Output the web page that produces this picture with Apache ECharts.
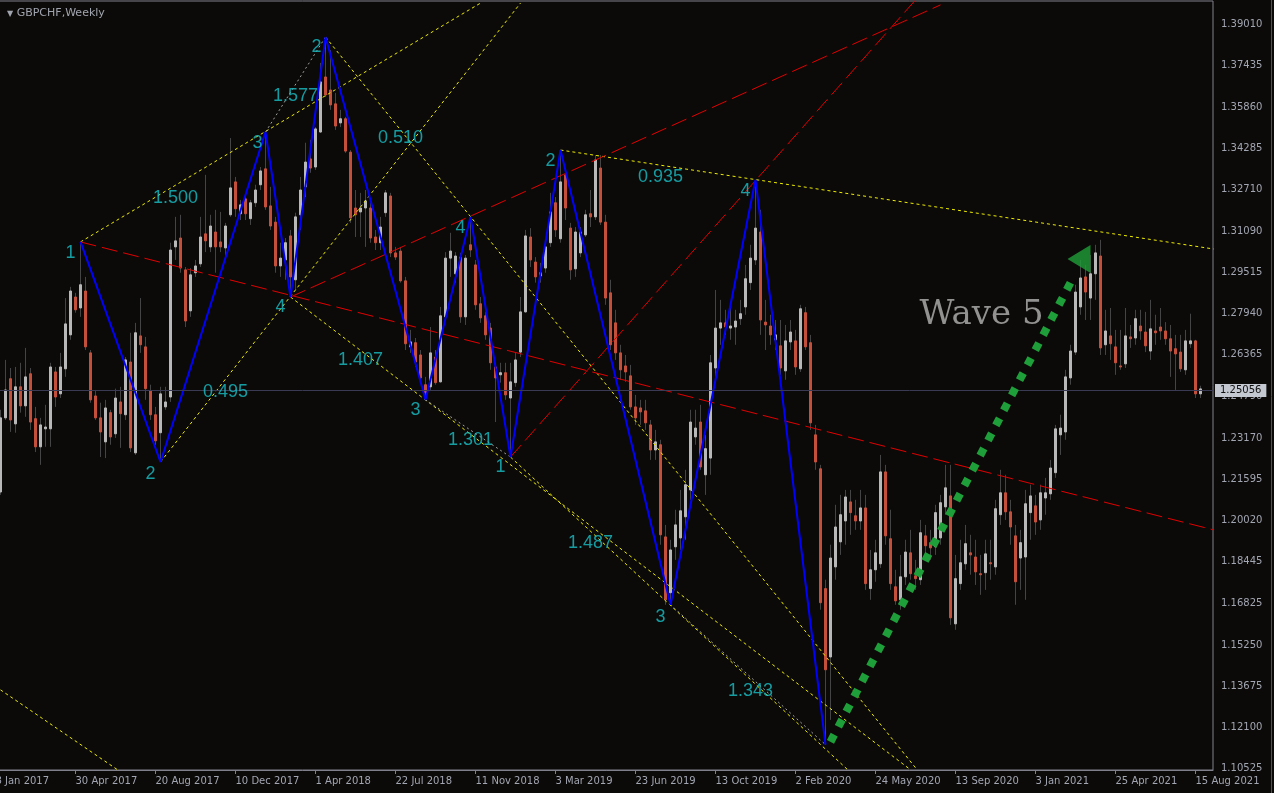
<!DOCTYPE html>
<html><head><meta charset="utf-8">
<script src="https://cdn.jsdelivr.net/npm/echarts@6.0.0/dist/echarts.min.js"></script>
<style>html,body{margin:0;padding:0;background:#0c0a08;}#chart{width:1274px;height:793px;}</style>
</head><body><div id="chart"></div>
<script>
// ---- weekly GBPCHF candles (index 0 = week of 8 Jan 2017) ----
const openP = [1.2483,1.2111,1.2395,1.2545,1.2372,1.2514,1.2441,1.2564,1.2392,1.2284,
1.2353,1.2353,1.2571,1.2487,1.2583,1.2713,1.2858,1.2816,1.2881,1.2644,
1.2479,1.2395,1.2303,1.2415,1.2334,1.2456,1.2407,1.2609,1.2261,1.2709,
1.2667,1.2498,1.2407,1.2338,1.2437,1.2475,1.3050,1.3084,1.2962,1.2805,
1.2951,1.2985,1.3100,1.3050,1.3107,1.3069,1.3046,1.3173,1.3299,1.3177,
1.3234,1.3158,1.3219,1.3288,1.3349,1.3207,1.3145,1.2977,1.3000,1.3092,
1.2924,1.3173,1.3280,1.3387,1.3356,1.3490,1.3701,1.3651,1.3598,1.3525,
1.3541,1.3413,1.3199,1.3184,1.3199,1.3199,1.3088,1.3066,1.3181,1.3245,
1.3027,1.3034,1.2920,1.2667,1.2683,1.2636,1.2522,1.2514,1.2628,1.2533,
1.2782,1.3007,1.2947,1.3011,1.2782,1.3058,1.2981,1.2832,1.2786,1.2739,
1.2590,1.2560,1.2568,1.2471,1.2530,1.2647,1.2801,1.3088,1.2992,1.2939,
1.2969,1.3066,1.3219,1.3081,1.3326,1.3122,1.2966,1.3027,1.3096,1.3177,
1.3165,1.3352,1.3145,1.2874,1.2759,1.2644,1.2594,1.2556,1.2437,1.2433,
1.2422,1.2368,1.2272,1.2292,1.1939,1.1725,1.1901,1.1935,1.2016,1.2119,
1.2322,1.2379,1.2177,1.2241,1.2586,1.2739,1.2759,1.2739,1.2743,1.2775,
1.2820,1.2913,1.3000,1.3107,1.2762,1.2747,1.2694,1.2671,1.2575,1.2686,
1.2690,1.2583,1.2798,1.2683,1.2330,1.2200,1.1741,1.1479,1.1824,1.1920,
1.2000,1.2073,1.2020,1.2000,1.2050,1.1741,1.1813,1.1836,1.2188,1.1932,
1.1748,1.1698,1.1786,1.1878,1.1790,1.1775,1.1943,1.1917,1.1901,1.1935,
1.2054,1.2096,1.1606,1.1760,1.1836,1.1878,1.1862,1.1798,1.1802,1.1840,
1.1824,1.2024,1.2108,1.2035,1.1943,1.1858,1.1862,1.2032,1.2058,1.2004,
1.2088,1.2104,1.2185,1.2330,1.2341,1.2548,1.2647,1.2820,1.2935,1.2854,
1.2947,1.3015,1.2675,1.2709,1.2667,1.2594,1.2602,1.2705,1.2701,1.2747,
1.2724,1.2651,1.2728,1.2743,1.2728,1.2698,1.2660,1.2647,1.2579,1.2679,
1.2690,1.2487];
const closeP = [1.2368,1.2395,1.2502,1.2387,1.2514,1.2441,1.2552,1.2379,1.2284,1.2368,
1.2360,1.2590,1.2475,1.2590,1.2755,1.2881,1.2809,1.2905,1.2667,1.2464,
1.2395,1.2341,1.2433,1.2322,1.2471,1.2411,1.2617,1.2280,1.2721,1.2675,
1.2507,1.2407,1.2307,1.2487,1.2456,1.3038,1.3073,1.2969,1.2766,1.2943,
1.2977,1.3088,1.3073,1.3130,1.3050,1.3050,1.3130,1.3276,1.3196,1.3211,
1.3177,1.3219,1.3268,1.3341,1.3203,1.3130,1.2977,1.3007,1.3066,1.2935,
1.3165,1.3268,1.3375,1.3352,1.3502,1.3682,1.3632,1.3594,1.3513,1.3541,
1.3417,1.3161,1.3173,1.3199,1.3226,1.3084,1.3066,1.3126,1.3257,1.3027,
1.3011,1.2920,1.2679,1.2686,1.2609,1.2548,1.2491,1.2644,1.2530,1.2786,
1.3007,1.3034,1.3015,1.2782,1.3007,1.3038,1.2828,1.2778,1.2713,1.2606,
1.2548,1.2568,1.2483,1.2533,1.2617,1.2801,1.3092,1.3000,1.2935,1.2951,
1.3050,1.3184,1.3115,1.3299,1.3199,1.2962,1.3107,1.3107,1.3173,1.3165,
1.3383,1.3145,1.2854,1.2675,1.2644,1.2579,1.2571,1.2437,1.2395,1.2418,
1.2376,1.2272,1.2303,1.1947,1.1698,1.1889,1.1985,1.2039,1.2139,1.2379,
1.2356,1.2207,1.2277,1.2606,1.2739,1.2759,1.2743,1.2747,1.2766,1.2794,
1.2928,1.3007,1.3122,1.2770,1.2751,1.2713,1.2713,1.2586,1.2690,1.2724,
1.2590,1.2813,1.2667,1.2376,1.2226,1.1687,1.1430,1.1858,1.1977,1.2024,
1.2092,1.2032,1.2000,1.2050,1.1760,1.1813,1.1878,1.2188,1.1943,1.1760,
1.1694,1.1786,1.1881,1.1798,1.1779,1.1955,1.1905,1.1897,1.2032,1.2070,
1.2127,1.1629,1.1779,1.1840,1.1913,1.1870,1.1805,1.1794,1.1874,1.1836,
1.2047,1.2108,1.2035,1.1977,1.1767,1.1917,1.2066,1.2096,1.1996,1.2108,
1.2108,1.2203,1.2353,1.2356,1.2552,1.2651,1.2877,1.2931,1.2877,1.2947,
1.3027,1.2663,1.2728,1.2679,1.2606,1.2590,1.2709,1.2698,1.2775,1.2728,
1.2671,1.2736,1.2721,1.2728,1.2698,1.2651,1.2640,1.2583,1.2690,1.2690,
1.2487,1.2506];
const lowP = [1.2341,1.2100,1.2387,1.2341,1.2338,1.2415,1.2399,1.2349,1.2264,1.2215,
1.2284,1.2284,1.2437,1.2471,1.2552,1.2694,1.2798,1.2782,1.2655,1.2453,
1.2387,1.2245,1.2241,1.2292,1.2318,1.2280,1.2387,1.2264,1.2253,1.2644,
1.2464,1.2387,1.2292,1.2226,1.2426,1.2456,1.3000,1.2951,1.2743,1.2782,
1.2935,1.2973,1.3030,1.3030,1.2951,1.3030,1.3011,1.3165,1.3165,1.3153,
1.3153,1.3134,1.3203,1.3268,1.3192,1.3115,1.2951,1.2935,1.2924,1.2858,
1.2885,1.3115,1.3241,1.3334,1.3345,1.3487,1.3624,1.3575,1.3498,1.3509,
1.3410,1.3142,1.3088,1.3088,1.3050,1.3066,1.3038,1.3038,1.3165,1.3011,
1.3000,1.2913,1.2655,1.2644,1.2590,1.2530,1.2464,1.2502,1.2522,1.2530,
1.2770,1.2935,1.2913,1.2759,1.2751,1.3011,1.2809,1.2759,1.2694,1.2579,
1.2379,1.2530,1.2464,1.2245,1.2514,1.2628,1.2798,1.2973,1.2913,1.2913,
1.2951,1.3050,1.3088,1.3066,1.3153,1.2924,1.2935,1.3011,1.3088,1.3126,
1.3153,1.3134,1.2828,1.2655,1.2617,1.2541,1.2533,1.2426,1.2368,1.2368,
1.2349,1.2234,1.2234,1.1909,1.1679,1.1679,1.1851,1.1889,1.1928,1.2081,
1.2292,1.2196,1.2100,1.2177,1.2541,1.2675,1.2713,1.2694,1.2675,1.2751,
1.2790,1.2885,1.2981,1.2713,1.2655,1.2675,1.2655,1.2560,1.2541,1.2655,
1.2560,1.2571,1.2655,1.2349,1.2196,1.1660,1.1143,1.1238,1.1775,1.1870,
1.1909,1.1947,1.1966,1.1966,1.1736,1.1698,1.1767,1.1820,1.1909,1.1736,
1.1679,1.1660,1.1755,1.1775,1.1736,1.1755,1.1851,1.1851,1.1870,1.1909,
1.2024,1.1602,1.1583,1.1736,1.1813,1.1794,1.1755,1.1717,1.1736,1.1775,
1.1794,1.1985,1.2004,1.1909,1.1679,1.1736,1.1698,1.1928,1.1947,1.1966,
1.2024,1.2081,1.2165,1.2253,1.2311,1.2522,1.2636,1.2790,1.2770,1.2770,
1.2847,1.2636,1.2636,1.2617,1.2560,1.2579,1.2586,1.2663,1.2675,1.2694,
1.2647,1.2617,1.2675,1.2694,1.2675,1.2552,1.2502,1.2571,1.2560,1.2663,
1.2471,1.2471];
const highP = [1.2510,1.2426,1.2617,1.2586,1.2590,1.2606,1.2663,1.2586,1.2437,1.2395,
1.2445,1.2606,1.2590,1.2644,1.2854,1.2897,1.2874,1.3069,1.2935,1.2655,
1.2502,1.2453,1.2464,1.2426,1.2507,1.2514,1.2628,1.2721,1.2759,1.2854,
1.2705,1.2522,1.2437,1.2514,1.2514,1.3066,1.3165,1.3173,1.2973,1.2969,
1.3000,1.3165,1.3326,1.3173,1.3192,1.3184,1.3142,1.3467,1.3318,1.3230,
1.3241,1.3230,1.3288,1.3356,1.3490,1.3280,1.3165,1.3066,1.3084,1.3115,
1.3181,1.3318,1.3449,1.3460,1.3509,1.3755,1.3854,1.3804,1.3640,1.3575,
1.3548,1.3421,1.3268,1.3257,1.3268,1.3219,1.3115,1.3165,1.3268,1.3257,
1.3050,1.3050,1.2935,1.2732,1.2701,1.2655,1.2552,1.2743,1.2655,1.2820,
1.3030,1.3104,1.3030,1.3027,1.3019,1.3165,1.3000,1.2858,1.2801,1.2759,
1.2606,1.2606,1.2606,1.2606,1.2644,1.2858,1.3115,1.3122,1.3011,1.2989,
1.3069,1.3257,1.3241,1.3421,1.3345,1.3142,1.3126,1.3126,1.3192,1.3268,
1.3402,1.3402,1.3173,1.2924,1.2809,1.2675,1.2636,1.2598,1.2483,1.2464,
1.2464,1.2387,1.2349,1.2311,1.1985,1.1928,1.2043,1.2119,1.2196,1.2426,
1.2426,1.2445,1.2330,1.2636,1.2885,1.2847,1.2809,1.2828,1.2809,1.2847,
1.2981,1.3058,1.3307,1.3192,1.2847,1.2790,1.2770,1.2770,1.2751,1.2770,
1.2732,1.2828,1.2820,1.2713,1.2368,1.2215,1.1775,1.1909,1.2062,1.2100,
1.2119,1.2119,1.2081,1.2119,1.2100,1.1889,1.1928,1.2253,1.2215,1.2043,
1.1813,1.1870,1.1928,1.1966,1.1851,1.2004,1.1985,1.1966,1.2062,1.2100,
1.2215,1.2215,1.1870,1.1928,1.1985,1.1947,1.1928,1.1870,1.1928,1.1928,
1.2081,1.2196,1.2177,1.2081,1.1985,1.1966,1.2119,1.2139,1.2100,1.2139,
1.2165,1.2234,1.2368,1.2407,1.2579,1.2675,1.2905,1.3000,1.2981,1.3019,
1.3058,1.3077,1.2809,1.2816,1.2732,1.2732,1.2816,1.2751,1.2809,1.2809,
1.2801,1.2847,1.2790,1.2816,1.2762,1.2751,1.2713,1.2713,1.2732,1.2794,
1.2694,1.2518];

const currentPrice = 1.25056;

// ---- axis ticks ----
const xTickWeeks = [0,16,32,48,64,80,96,112,128,144,160,176,192,208,224,240];
const xTickLabels = ['8 Jan 2017','30 Apr 2017','20 Aug 2017','10 Dec 2017','1 Apr 2018','22 Jul 2018','11 Nov 2018','3 Mar 2019','23 Jun 2019','13 Oct 2019','2 Feb 2020','24 May 2020','13 Sep 2020','3 Jan 2021','25 Apr 2021','15 Aug 2021'];
const yTickValues = [1.10525,1.12100,1.13675,1.15250,1.16825,1.18445,1.20020,1.21595,1.23170,1.24790,1.26365,1.27940,1.29515,1.31090,1.32710,1.34285,1.35860,1.37435,1.39010];

// ---- wave zigzag (week index, price) ----
const waveX = [17,33,54,59,66,86,95,103,113,135,152,166];
const waveY = [1.3069,1.2226,1.3490,1.2858,1.3854,1.2464,1.3165,1.2245,1.3421,1.1679,1.3307,1.1143];

// ---- annotation lines [x1, p1, x2, p2] ----
const yellowLines = [
  [17,1.3069,97,1.3984],
  [33,1.2226,105,1.3984],
  [59,1.2858,183,1.1047],
  [66,1.3854,184.2,1.1050],
  [113,1.3421,243.6,1.3042],
  [103,1.2245,170.5,1.1046],
  [0,1.1366,24.4,1.1047]
];
const greyLines = [
  [54,1.3490,66,1.3854],
  [86,1.2464,103,1.2245],
  [135,1.1679,166,1.1143]
];
const redLines = [
  [17,1.3069,243.6,1.1966],
  [59,1.2858,189,1.3977],
  [103,1.2245,184,1.3996]
];
const greenArrow = [167,1.1154,215.6,1.2935];
const arrowHead = [216.7,1.3004];

// ---- text labels ----
const waveLabelText = ['1','2','3','4','2','3','4','1','2','3','4'];
const waveLabelX = [15,31,52.4,57,64.2,84,93,101,111,133,150];
const waveLabelY = [1.3027,1.2181,1.3449,1.2820,1.3816,1.2426,1.3122,1.2207,1.3379,1.1633,1.3264];
const ratioLabelText = ['1.500','1.577','0.510','1.407','0.495','1.301','0.935','1.487','1.343'];
const ratioLabelX = [36,60,81,73,46,95,133,119,151];
const ratioLabelY = [1.3238,1.3628,1.3467,1.2617,1.2495,1.2311,1.3318,1.1917,1.1349];
const waveTextPos = [197.2,1.2790];

// ---- build ----
const candleData = openP.map((o,i)=>[i,o,closeP[i],lowP[i],highP[i]]);
const bodyData = openP.map((o,i)=>[i,o,closeP[i],Math.min(o,closeP[i]),Math.max(o,closeP[i])]);

function seg(l, color, type, width, z){
  return {type:'line', data:[[l[0],l[1]],[l[2],l[3]]], symbol:'none', silent:true, clip:true,
    lineStyle:{color:color, type:type, width:width, cap:'butt'}, z:z||3};
}

const series = [
  {type:'candlestick', data:candleData, barWidth:1, silent:true,
   itemStyle:{color:'#444444',color0:'#444444',borderColor:'#444444',borderColor0:'#444444',borderWidth:1}},
  {type:'candlestick', data:bodyData, barWidth:2, silent:true,
   itemStyle:{color:'#b8b8b8',color0:'#c4503c',borderColor:'#b8b8b8',borderColor0:'#c4503c',borderWidth:1},
   markLine:{silent:true, symbol:['none','none'], animation:false,
     lineStyle:{color:'#3a3a55',type:'solid',width:1},
     label:{show:true, position:'end', distance:2, formatter:currentPrice.toFixed(5),
       backgroundColor:'#c4c8d0', color:'#101010', padding:[2,5,1,5], fontFamily:'DejaVu Sans', fontSize:10},
     data:[{yAxis:currentPrice}]}}
];
yellowLines.forEach(l=>series.push(seg(l,'#eeee00',[3,3],1)));
greyLines.forEach(l=>series.push(seg(l,'#a0a0a0',[2,3],1)));
redLines.forEach(l=>series.push(seg(l,'#e00000',[16,6],1)));
series.push({type:'line', data:waveX.map((x,i)=>[x,waveY[i]]), symbol:'none', silent:true,
  lineStyle:{color:'#0000ff',width:2}, z:4});
series.push(seg(greenArrow,'#1f9f3a',[8,9],8,5));
series.push({type:'scatter', data:[arrowHead], symbol:'triangle', symbolSize:[28,23], symbolRotate:90,
  itemStyle:{color:'#1f9f3a'}, silent:true, z:5});
series.push({type:'scatter', silent:true, z:6, symbolSize:1, itemStyle:{color:'rgba(0,0,0,0)'},
  data:waveLabelText.map((t,i)=>({name:t, value:[waveLabelX[i],waveLabelY[i]]})),
  label:{show:true, position:'inside', formatter:'{b}', color:'#18c0c8', fontSize:18, fontFamily:'Liberation Sans'}});
series.push({type:'scatter', silent:true, z:6, symbolSize:1, itemStyle:{color:'rgba(0,0,0,0)'},
  data:ratioLabelText.map((t,i)=>({name:t, value:[ratioLabelX[i],ratioLabelY[i]]})),
  label:{show:true, position:'inside', formatter:'{b}', color:'#18c0c8', fontSize:18, fontFamily:'Liberation Sans'}});
series.push({type:'scatter', silent:true, z:6, symbolSize:1, itemStyle:{color:'rgba(0,0,0,0)'},
  data:[{name:'Wave 5', value:waveTextPos}],
  label:{show:true, position:'inside', formatter:'{b}', color:'#b4b4b4', fontSize:34, fontFamily:'DejaVu Serif'}});

const axisCol = '#80808c', labCol = '#a2a6b2';
const chart = echarts.init(document.getElementById('chart'), null, {renderer:'canvas'});
chart.setOption({
  animation:false,
  backgroundColor:'#0c0a08',
  title:{text:'{t|▼} GBPCHF,Weekly', left:2, top:3,
    textStyle:{color:'#a0a4ae', fontSize:11, fontWeight:'normal', fontFamily:'DejaVu Sans',
      rich:{t:{fontSize:8, color:'#a0a4ae'}}}},
  grid:{left:-4.5, right:61, top:1, bottom:23, containLabel:false, outerBoundsMode:'none',
    show:true, borderColor:axisCol, borderWidth:1, backgroundColor:'transparent'},
  xAxis:{type:'value', min:0, max:243.5, splitLine:{show:false},
    axisLine:{show:true, lineStyle:{color:axisCol}},
    axisTick:{show:true, length:4, customValues:xTickWeeks, lineStyle:{color:axisCol}},
    axisLabel:{customValues:xTickWeeks, align:'left', margin:6, color:labCol, fontSize:10, fontFamily:'DejaVu Sans',
      formatter:(v)=>xTickLabels[xTickWeeks.indexOf(Math.round(v))] || ''}},
  yAxis:{type:'value', position:'right', min:1.1046, max:1.3992, scale:true, splitLine:{show:false},
    axisLine:{show:true, lineStyle:{color:axisCol}},
    axisTick:{show:true, length:4, customValues:yTickValues, lineStyle:{color:axisCol}},
    axisLabel:{customValues:yTickValues, margin:8, color:labCol, fontSize:10, fontFamily:'DejaVu Sans',
      formatter:(v)=>v.toFixed(5)}},
  graphic:[{type:'line', shape:{x1:1271.5,y1:0,x2:1271.5,y2:793}, style:{stroke:'#505058',lineWidth:1}, silent:true}],
  series:series
});
</script></body></html>
